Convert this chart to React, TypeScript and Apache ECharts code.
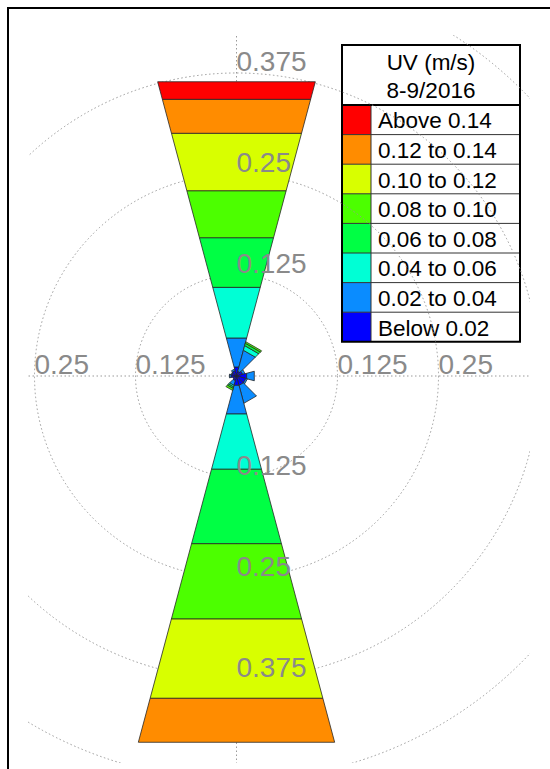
import React, { useEffect, useRef } from "react";
import * as echarts from "echarts";

// Wind directions (degrees clockwise from north), 30° sectors
const directions = [0, 30, 60, 90, 120, 150, 180, 210, 240, 270, 300, 330];

// Share of time per speed class, one value per direction
const below002 = [0.0115, 0.006, 0.008, 0.013, 0.012, 0.012, 0.012, 0.006, 0.005, 0.007, 0.006, 0.007];
const from002to004 = [0.0372, 0.027, 0.003, 0.0098, 0.002, 0.023, 0.0367, 0.006, 0, 0.002, 0.001, 0.002];
const from004to006 = [0.0649, 0.006, 0, 0, 0, 0, 0.0708, 0.002, 0, 0, 0, 0];
const from006to008 = [0.0636, 0.003, 0, 0, 0, 0, 0.0954, 0.002, 0, 0, 0, 0];
const from008to010 = [0.0602, 0.002, 0, 0, 0, 0, 0.0965, 0.0025, 0, 0, 0, 0];
const from010to012 = [0.0736, 0, 0, 0, 0, 0, 0.1016, 0, 0, 0, 0, 0];
const from012to014 = [0.0435, 0, 0, 0, 0, 0, 0.0563, 0, 0, 0, 0, 0];
const above014 = [0.0225, 0, 0, 0, 0, 0, 0, 0, 0, 0, 0, 0];

const classValues = [below002, from002to004, from004to006, from006to008, from008to010, from010to012, from012to014, above014];
const classLabels = ["Below 0.02", "0.02 to 0.04", "0.04 to 0.06", "0.06 to 0.08", "0.08 to 0.10", "0.10 to 0.12", "0.12 to 0.14", "Above 0.14"];
const classColors = ["#0000ff", "#0a8cff", "#00ffd5", "#00ff44", "#4cff00", "#d8ff00", "#ff8c00", "#ff0000"];

const legendTitle = ["UV (m/s)", "8-9/2016"];

// Radial tick labels drawn along each cardinal axis
const verticalTicks = [0.125, 0.25, 0.375];
const horizontalTicks = [0.125, 0.25];

const FONT = '"Liberation Sans", Arial, Helvetica, sans-serif';
const SECTOR_HALF = 15;

export default function App() {
  const ref = useRef<HTMLDivElement>(null);

  useEffect(() => {
    document.body.style.margin = "0";
    if (!ref.current) return;
    const chart = echarts.init(ref.current, null, { renderer: "svg" });

    // stacked segments: [start, end, direction, class]
    const segments: number[][] = [];
    directions.forEach((dir, d) => {
      let acc = 0;
      classValues.forEach((vals, c) => {
        const v = vals[d];
        if (v > 0) {
          segments.push([acc, acc + v, dir, c]);
          acc += v;
        }
      });
    });

    const tickLabels: number[][] = [];
    verticalTicks.forEach((t) => {
      tickLabels.push([t, 0]);
      tickLabels.push([t, 180]);
    });
    horizontalTicks.forEach((t) => {
      tickLabels.push([t, 90]);
      tickLabels.push([t, 270]);
    });

    const gridLine = { color: "#9a9a9a", width: 1, type: [1.5, 2.5] as number[] };

    // legend table
    const lx = 342;
    const ly = 45;
    const lw = 178;
    const titleH = 60;
    const rowH = 29.6;
    const swatchW = 29;
    const rows = classLabels.length;
    const lh = titleH + rowH * rows;
    const legendFont = `22.5px ${FONT}`;
    const legendChildren: any[] = [
      { type: "rect", shape: { x: lx, y: ly, width: lw, height: lh }, style: { fill: "#fff", stroke: "none" } },
    ];
    legendTitle.forEach((t, i) => {
      legendChildren.push({
        type: "text",
        x: lx + lw / 2,
        y: ly + 17 + i * 28.5,
        style: { text: t, fill: "#000", font: legendFont, align: "center", verticalAlign: "middle" },
      });
    });
    for (let i = 0; i < rows; i++) {
      const c = rows - 1 - i;
      const y0 = ly + titleH + i * rowH;
      legendChildren.push({
        type: "rect",
        shape: { x: lx, y: y0, width: swatchW, height: rowH },
        style: { fill: classColors[c], stroke: "none" },
      });
      legendChildren.push({
        type: "text",
        x: lx + 36,
        y: y0 + rowH / 2 + 1,
        style: { text: classLabels[c], fill: "#000", font: legendFont, align: "left", verticalAlign: "middle" },
      });
      if (i > 0) {
        legendChildren.push({
          type: "line",
          shape: { x1: lx, y1: y0, x2: lx + lw, y2: y0 },
          style: { stroke: "#333", lineWidth: 1 },
        });
      }
    }
    legendChildren.push({
      type: "line",
      shape: { x1: lx + swatchW, y1: ly + titleH, x2: lx + swatchW, y2: ly + lh },
      style: { stroke: "#333", lineWidth: 1 },
    });
    legendChildren.push({
      type: "line",
      shape: { x1: lx, y1: ly + titleH, x2: lx + lw, y2: ly + titleH },
      style: { stroke: "#000", lineWidth: 2 },
    });
    legendChildren.push({
      type: "rect",
      shape: { x: lx, y: ly, width: lw, height: lh },
      style: { fill: "none", stroke: "#000", lineWidth: 2 },
    });

    // plot box that clips the polar grid
    const box = { left: 28, top: 35, right: 530, bottom: 763 };
    const white = { fill: "#fff", stroke: "none" };

    chart.setOption({
      animation: false,
      polar: { center: [236.5, 376], radius: 404 },
      angleAxis: {
        type: "value",
        min: 0,
        max: 360,
        interval: 90,
        startAngle: 90,
        clockwise: true,
        axisLine: { show: false },
        axisTick: { show: false },
        axisLabel: { show: false },
        splitLine: { show: true, lineStyle: gridLine },
      },
      radiusAxis: {
        type: "value",
        min: 0,
        max: 0.5,
        interval: 0.125,
        axisLine: { show: false },
        axisTick: { show: false },
        axisLabel: { show: false },
        splitLine: { show: true, lineStyle: gridLine },
      },
      series: [
        {
          type: "custom",
          coordinateSystem: "polar",
          data: segments,
          encode: { radius: [0, 1], angle: 2 },
          z: 3,
          renderItem: (params: any, api: any) => {
            const r0 = api.value(0);
            const r1 = api.value(1);
            const a = api.value(2);
            const c = api.value(3);
            const aL = (a - SECTOR_HALF + 360) % 360;
            const aR = (a + SECTOR_HALF) % 360;
            const pts = [api.coord([r0, aL]), api.coord([r0, aR]), api.coord([r1, aR]), api.coord([r1, aL])];
            return {
              type: "polygon",
              shape: { points: pts },
              style: { fill: classColors[c], stroke: "#262626", lineWidth: 0.8 },
            };
          },
        },
        {
          type: "custom",
          coordinateSystem: "polar",
          data: tickLabels,
          encode: { radius: 0, angle: 1 },
          z: 5,
          renderItem: (params: any, api: any) => {
            const p = api.coord([api.value(0), api.value(1)]);
            return {
              type: "text",
              x: p[0],
              y: p[1] + 2,
              style: {
                text: String(api.value(0)),
                fill: "#8a8a8a",
                font: `28px ${FONT}`,
                align: "left",
                verticalAlign: "bottom",
              },
            };
          },
        },
      ],
      graphic: [
        { type: "rect", z: 100, shape: { x: 0, y: 0, width: box.left, height: 769 }, style: white },
        { type: "rect", z: 100, shape: { x: 0, y: 0, width: 550, height: box.top }, style: white },
        { type: "rect", z: 100, shape: { x: box.right, y: 0, width: 550 - box.right, height: 769 }, style: white },
        { type: "rect", z: 100, shape: { x: 0, y: box.bottom, width: 550, height: 769 - box.bottom }, style: white },
        {
          type: "rect",
          z: 101,
          shape: { x: 8, y: 8, width: 800, height: 900 },
          style: { fill: "none", stroke: "#000", lineWidth: 2 },
        },
        { type: "group", z: 102, children: legendChildren },
      ],
    });

    return () => chart.dispose();
  }, []);

  return <div ref={ref} style={{ width: 550, height: 769 }} />;
}
